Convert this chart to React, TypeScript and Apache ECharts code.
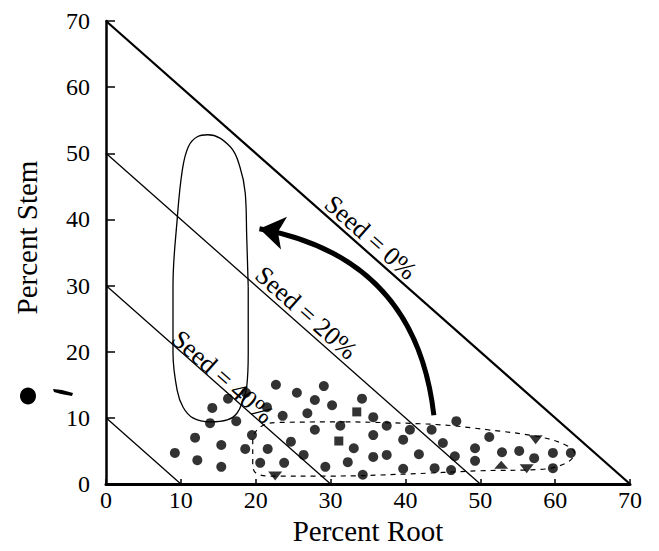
import { useEffect, useRef } from "react";
import * as echarts from "echarts";

const FONT = '"Liberation Serif", "Times New Roman", serif';

// Axis
const axisMin = 0;
const axisMax = 70;
const axisStep = 10;

// Seed iso-lines: Root + Stem = 70 - Seed
const seedPercents = [0, 20, 40, 60];
const seedLabelTexts = ["Seed = 0%", "Seed = 20%", "Seed = 40%"];
const seedLabelAnchorX = [34.2, 25.6, 14.8];
const seedLabelGap = [0, 0, -4];

// Observations [Percent Root, Percent Stem]
const circlePoints = [
  [22.7, 15.0], [25.5, 13.8], [29.1, 14.8], [27.9, 12.7], [16.3, 12.9], [14.2, 11.5],
  [18.7, 13.8], [21.5, 11.6], [23.6, 10.3], [26.9, 10.7], [27.9, 8.2], [13.9, 9.2],
  [17.4, 9.5], [19.5, 7.4], [11.9, 7.0], [15.4, 5.9], [18.6, 5.3], [21.6, 5.3],
  [24.7, 6.4], [9.2, 4.7], [12.2, 3.6], [15.4, 2.6], [20.6, 3.2], [23.8, 3.2],
  [26.4, 4.4], [30.2, 11.9], [34.2, 12.9], [35.7, 10.1], [31.3, 8.8], [37.5, 8.8],
  [40.6, 8.2], [43.5, 8.2], [46.8, 9.5], [35.7, 7.4], [39.7, 6.7], [33.1, 5.4],
  [45.0, 6.2], [35.7, 4.1], [37.5, 4.4], [41.8, 4.5], [46.6, 4.2], [32.3, 3.3],
  [29.3, 2.6], [34.3, 1.4], [39.7, 2.3], [43.9, 2.4], [46.1, 2.1], [51.2, 7.1],
  [62.1, 4.7], [49.3, 5.4], [52.9, 4.8], [55.2, 5.0], [59.7, 4.7], [49.3, 3.5],
  [57.2, 3.9], [59.7, 2.4],
];
const squarePoints = [[33.5, 10.9], [31.1, 6.5]];
const triangleUpPoints = [[52.8, 2.9]];
const triangleDownPoints = [[22.6, 1.2], [57.4, 6.7], [56.2, 2.3]];

// Outlined regions
const stemRegion = [
  [19.0, 29.8], [19.0, 19.8], [18.8, 14.7], [18.3, 12.7], [17.5, 10.7], [16.2, 9.7],
  [13.9, 9.4], [11.6, 10.0], [10.3, 11.6], [9.5, 14.2], [8.95, 19.8], [8.95, 29.8],
  [9.5, 39.9], [10.2, 47.5], [11.0, 51.0], [12.2, 52.5], [13.6, 52.8], [16.6, 51.0],
  [17.9, 47.9], [18.6, 44.0], [18.8, 37.3], [19.0, 29.8],
];
const rootRegion = [
  [32, 9.4], [44, 9.0], [51, 8.2], [58, 7.1], [61.4, 5.9], [62.6, 4.7], [61.5, 3.2],
  [58, 2.2], [50, 2.0], [40, 1.5], [30, 1.2], [22, 1.2], [20, 1.7], [19.6, 3.2],
  [19.6, 6.5], [20.6, 8.6], [23, 9.3], [32, 9.4],
];
// Shift arrow: from root-heavy to stem-heavy
const arrowFrom = [43.8, 10.4];
const arrowTo = [20.5, 38.6];

export default function App() {
  const ref = useRef<HTMLDivElement>(null);

  useEffect(() => {
    document.body.style.margin = "0";
    const chart = echarts.init(ref.current!, null, { renderer: "svg" });

    const seedSeries = seedPercents.map((s) => {
      const total = axisMax - s;
      return {
        type: "line",
        data: [[0, total], [total, 0]],
        symbol: "none",
        silent: true,
        lineStyle: { color: "#000", width: s === 0 ? 2.2 : 1.3 },
        z: 2,
      };
    });

    const axisCommon = {
      type: "value",
      min: axisMin,
      max: axisMax,
      interval: axisStep,
      splitLine: { show: false },
      axisLabel: { color: "#000", fontFamily: FONT, fontSize: 24 },
      nameLocation: "middle",
    };

    chart.setOption({
      animation: false,
      backgroundColor: "#fff",
      grid: { left: 106, right: 29, top: 21, bottom: 67 },
      xAxis: {
        ...axisCommon,
        name: "Percent Root",
        nameGap: 28,
        nameTextStyle: { color: "#000", fontFamily: FONT, fontSize: 29 },
        axisLine: { show: true, lineStyle: { color: "#000", width: 3 } },
        axisTick: { show: true, inside: true, length: 5, lineStyle: { color: "#000", width: 1.5 } },
        axisLabel: { ...axisCommon.axisLabel, margin: 4 },
      },
      yAxis: {
        ...axisCommon,
        name: "Percent Stem",
        nameGap: 65,
        nameTextStyle: { color: "#000", fontFamily: FONT, fontSize: 29, padding: [0, 0, 0, 30] },
        axisLine: { show: true, lineStyle: { color: "#000", width: 2.5 } },
        axisTick: { show: true, inside: true, length: 9, lineStyle: { color: "#000", width: 1.5 } },
        axisLabel: { ...axisCommon.axisLabel, margin: 16 },
      },
      series: [
        ...seedSeries,
        {
          type: "line",
          data: stemRegion,
          symbol: "none",
          smooth: 0.4,
          lineStyle: { color: "#000", width: 1.3 },
          z: 3,
        },
        {
          type: "line",
          data: rootRegion,
          symbol: "none",
          smooth: 0.4,
          lineStyle: { color: "#000", width: 1.2, type: [5, 5] },
          z: 3,
        },
        {
          type: "scatter",
          data: circlePoints,
          symbol: "circle",
          symbolSize: 10,
          itemStyle: { color: "#000" },
          z: 4,
        },
        {
          type: "scatter",
          data: squarePoints,
          symbol: "rect",
          symbolSize: 9,
          itemStyle: { color: "#000" },
          z: 4,
        },
        {
          type: "scatter",
          data: triangleUpPoints,
          symbol: "triangle",
          symbolSize: [14, 8],
          itemStyle: { color: "#000" },
          z: 4,
        },
        {
          type: "scatter",
          data: triangleDownPoints,
          symbol: "triangle",
          symbolRotate: 180,
          symbolSize: [14, 9],
          itemStyle: { color: "#000" },
          z: 4,
        },
        {
          type: "lines",
          coordinateSystem: "cartesian2d",
          symbol: ["none", "arrow"],
          symbolSize: 25,
          lineStyle: { color: "#000", width: 5, opacity: 1, curveness: -0.37 },
          data: [{ coords: [arrowFrom, arrowTo] }],
          z: 5,
        },
      ],
    });

    const graphics: any[] = [];
    seedLabelTexts.forEach((txt, i) => {
      const total = axisMax - seedPercents[i];
      const p1 = chart.convertToPixel({ gridIndex: 0 }, [0, total]) as number[];
      const p2 = chart.convertToPixel({ gridIndex: 0 }, [total, 0]) as number[];
      const theta = Math.atan2(p2[1] - p1[1], p2[0] - p1[0]);
      const ax = seedLabelAnchorX[i];
      const a = chart.convertToPixel({ gridIndex: 0 }, [ax, total - ax]) as number[];
      const nx = Math.sin(theta);
      const ny = -Math.cos(theta);
      graphics.push({
        type: "text",
        x: a[0] + nx * seedLabelGap[i],
        y: a[1] + ny * seedLabelGap[i],
        rotation: -theta,
        style: {
          text: txt,
          fill: "#000",
          fontFamily: FONT,
          fontSize: 26,
          align: "center",
          verticalAlign: "bottom",
        },
        z: 10,
      });
    });
    // scanning specks present in the original figure
    graphics.push({ type: "ellipse", shape: { cx: 28, cy: 396, rx: 8, ry: 8.5 }, style: { fill: "#000" } });
    graphics.push({
      type: "polygon",
      shape: { points: [[53, 389], [62, 390], [73, 393], [72, 396], [61, 394], [54, 392]] },
      style: { fill: "#000" },
    });
    chart.setOption({ graphic: graphics });

    return () => chart.dispose();
  }, []);

  return <div ref={ref} style={{ width: 659, height: 551 }} />;
}
